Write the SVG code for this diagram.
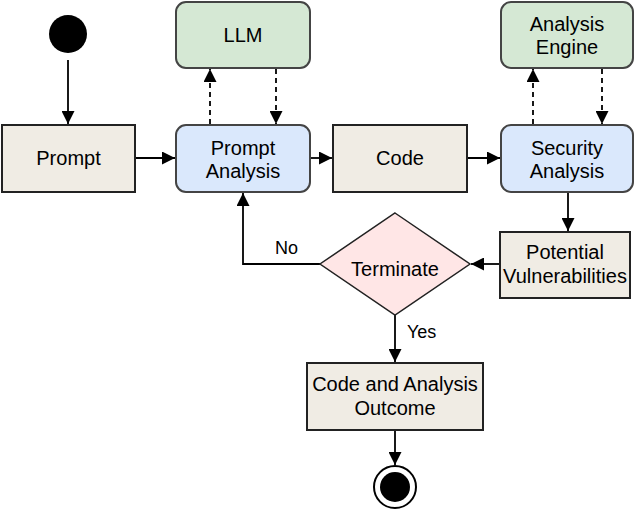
<svg xmlns="http://www.w3.org/2000/svg" width="636" height="513" viewBox="0 0 636 513">
<style>
text{font-family:"Liberation Sans",Arial,sans-serif;font-size:20px;fill:#000;text-anchor:middle}
.lbl{font-size:18px;text-anchor:start}
.beige{fill:#f0ece4;stroke:#222;stroke-width:2}
.blue{fill:#dae8fc;stroke:#444;stroke-width:2}
.green{fill:#d5e8d4;stroke:#444;stroke-width:2}
.pink{fill:#ffe6e6;stroke:#222;stroke-width:1.5}
.c{fill:none;stroke:#000;stroke-width:1.8}
.d{stroke-dasharray:5,4}
</style>
<defs>
<marker id="a" viewBox="0 0 13 13" refX="13" refY="6.5" markerWidth="13" markerHeight="13" markerUnits="userSpaceOnUse" orient="auto">
<path d="M0,0 L13,6.5 L0,13 Z" fill="#000"/>
</marker>
</defs>
<g id="connectors">
<path class="c" d="M68,60 V124" marker-end="url(#a)"/>
<path class="c" d="M135,158 H175" marker-end="url(#a)"/>
<path class="c d" d="M210,124 V69" marker-end="url(#a)"/>
<path class="c d" d="M276,69 V124" marker-end="url(#a)"/>
<path class="c" d="M310,158 H332" marker-end="url(#a)"/>
<path class="c" d="M467,158 H500" marker-end="url(#a)"/>
<path class="c d" d="M533,124 V69" marker-end="url(#a)"/>
<path class="c d" d="M602,69 V124" marker-end="url(#a)"/>
<path class="c" d="M568,192 V231" marker-end="url(#a)"/>
<path class="c" d="M500,264 H471" marker-end="url(#a)"/>
<path class="c" d="M320,264 H243 V193" marker-end="url(#a)"/>
<path class="c" d="M395,315 V362" marker-end="url(#a)"/>
<path class="c" d="M395,430 V465" marker-end="url(#a)"/>
<text class="lbl" x="275" y="254">No</text>
<text class="lbl" x="407" y="338">Yes</text>
</g>
<g id="start"><circle cx="68" cy="34" r="19" fill="#000"/></g>
<g id="prompt"><rect class="beige" x="2" y="125" width="133" height="67"/><text x="68.5" y="165">Prompt</text></g>
<g id="llm"><rect class="green" x="176" y="2" width="134" height="66" rx="10"/><text x="243" y="42">LLM</text></g>
<g id="prompt-analysis"><rect class="blue" x="176" y="125" width="134" height="67" rx="10"/><text x="243" y="155">Prompt</text><text x="243" y="178">Analysis</text></g>
<g id="code"><rect class="beige" x="333" y="125" width="134" height="67"/><text x="400" y="165">Code</text></g>
<g id="analysis-engine"><rect class="green" x="501" y="2" width="132" height="66" rx="10"/><text x="567" y="31">Analysis</text><text x="567" y="54">Engine</text></g>
<g id="security-analysis"><rect class="blue" x="501" y="125" width="132" height="67" rx="10"/><text x="567" y="155">Security</text><text x="567" y="178">Analysis</text></g>
<g id="potential-vulnerabilities"><rect class="beige" x="500" y="232" width="130" height="66"/><text x="565" y="259">Potential</text><text x="565" y="283">Vulnerabilities</text></g>
<g id="terminate"><path class="pink" d="M395,213 L470,264 L395,315 L320,264 Z"/><text x="395" y="276">Terminate</text></g>
<g id="outcome"><rect class="beige" x="307" y="363" width="176" height="67"/><text x="395" y="391">Code and Analysis</text><text x="395" y="415">Outcome</text></g>
<g id="end"><circle cx="395" cy="487" r="21" fill="#fff" stroke="#000" stroke-width="2"/><circle cx="395" cy="487" r="15" fill="#000"/></g>
</svg>
